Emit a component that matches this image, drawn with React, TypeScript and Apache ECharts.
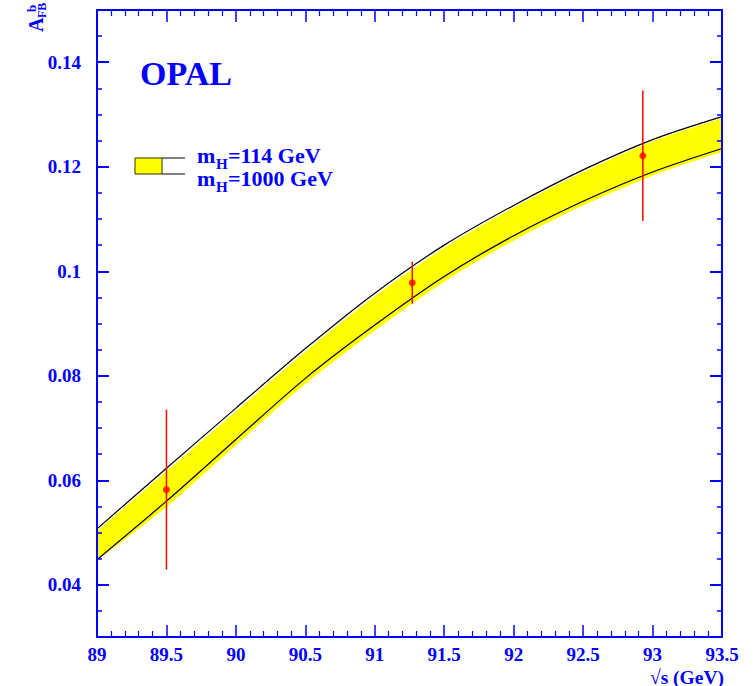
import React, { useEffect, useRef } from "react";
import * as echarts from "echarts";

// sqrt(s) grid for the theory band (GeV)
const sqrtS = [89, 89.5, 90, 90.5, 91, 91.5, 92, 92.5, 93, 93.5];
// A_FB^b prediction, mH = 114 GeV (upper black line)
const afbMH114 = [0.0507, 0.0623, 0.0738, 0.0852, 0.0958, 0.105, 0.1126, 0.1194, 0.1252, 0.1296];
// A_FB^b prediction, mH = 1000 GeV (lower black line)
const afbMH1000 = [0.0448, 0.056, 0.0678, 0.0795, 0.0897, 0.099, 0.1068, 0.1134, 0.119, 0.1235];
// yellow band edges
const bandTop = [0.0503, 0.0617, 0.0732, 0.0846, 0.0952, 0.1045, 0.1122, 0.119, 0.1249, 0.1293];
const bandBottom = [0.0446, 0.0549, 0.0667, 0.0784, 0.0886, 0.098, 0.1059, 0.1126, 0.1183, 0.1228];
// OPAL measurements
const dataX = [89.5, 91.27, 92.93];
const dataY = [0.0582, 0.0978, 0.1221];
const dataErr = [0.0153, 0.004, 0.0125];
// y tick labels
const yLabelValues = [0.04, 0.06, 0.08, 0.1, 0.12, 0.14];

const BLUE = "#0000ff";
const FONT = '"Liberation Serif", "Times New Roman", serif';

function xAxisDef(position: string, showLabel: boolean) {
  return {
    type: "value",
    position,
    z: 5,
    min: 89,
    max: 93.5,
    interval: 0.5,
    axisLine: { show: true, onZero: false, lineStyle: { color: BLUE, width: 2 } },
    axisTick: { show: true, inside: true, length: 12, lineStyle: { color: BLUE, width: 1.5 } },
    minorTick: { show: true, splitNumber: 5, length: 6, lineStyle: { color: BLUE, width: 1.2 } },
    axisLabel: {
      show: showLabel,
      color: BLUE,
      fontFamily: FONT,
      fontWeight: "bold",
      fontSize: 19,
      margin: 8,
      showMinLabel: true,
      showMaxLabel: true,
      formatter: (v: number) => String(v),
    },
    splitLine: { show: false },
    minorSplitLine: { show: false },
  };
}

function yMinorAxis(position: string) {
  return {
    type: "value",
    position,
    z: 5,
    min: 0.03,
    max: 0.15,
    interval: 0.005,
    axisLine: { show: true, onZero: false, lineStyle: { color: BLUE, width: 2 } },
    axisTick: { show: true, inside: true, length: 5, lineStyle: { color: BLUE, width: 1.5 } },
    axisLabel: { show: false },
    splitLine: { show: false },
  };
}

function yMajorAxis(position: string, showLabel: boolean) {
  return {
    type: "value",
    position,
    z: 5,
    min: 0.03,
    max: 0.15,
    axisLine: { show: false, onZero: false },
    axisTick: {
      show: true,
      inside: true,
      length: 12,
      customValues: yLabelValues,
      lineStyle: { color: BLUE, width: 2 },
    },
    axisLabel: {
      show: showLabel,
      customValues: yLabelValues,
      color: BLUE,
      fontFamily: FONT,
      fontWeight: "bold",
      fontSize: 19,
      margin: 16,
      formatter: (v: number) => String(parseFloat(v.toFixed(3))),
    },
    splitLine: { show: false },
  };
}

export default function App() {
  const ref = useRef<HTMLDivElement>(null);

  useEffect(() => {
    if (!ref.current) return;
    const chart = echarts.init(ref.current, undefined, { renderer: "svg" });

    const textStyle = (text: string, size: number, align = "left") => ({
      text,
      font: `bold ${size}px ${FONT}`,
      fill: BLUE,
      textAlign: align,
      textVerticalAlign: "middle",
      verticalAlign: "middle",
    });

    const option: any = {
      animation: false,
      grid: { left: 97, right: 34, top: 10, bottom: 49, containLabel: false, outerBoundsMode: "none" },
      xAxis: [xAxisDef("bottom", true), xAxisDef("top", false)],
      yAxis: [
        yMinorAxis("left"),
        yMajorAxis("left", true),
        yMinorAxis("right"),
        yMajorAxis("right", false),
      ],
      series: [
        {
          type: "line",
          name: "bandTop",
          xAxisIndex: 0,
          yAxisIndex: 0,
          data: sqrtS.map((x, i) => [x, bandTop[i]]),
          symbol: "none",
          smooth: 0.3,
          lineStyle: { width: 0, opacity: 0 },
          areaStyle: { color: "#ffff00", opacity: 1, origin: "start" },
          silent: true,
          z: 1,
        },
        {
          type: "line",
          name: "bandBottom",
          xAxisIndex: 0,
          yAxisIndex: 0,
          data: sqrtS.map((x, i) => [x, bandBottom[i]]),
          symbol: "none",
          smooth: 0.3,
          lineStyle: { width: 0, opacity: 0 },
          areaStyle: { color: "#ffffff", opacity: 1, origin: "start" },
          silent: true,
          z: 1,
        },
        {
          type: "line",
          name: "mH114",
          xAxisIndex: 0,
          yAxisIndex: 0,
          data: sqrtS.map((x, i) => [x, afbMH114[i]]),
          symbol: "none",
          smooth: 0.3,
          lineStyle: { color: "#000000", width: 1.2 },
          silent: true,
          z: 2,
        },
        {
          type: "line",
          name: "mH1000",
          xAxisIndex: 0,
          yAxisIndex: 0,
          data: sqrtS.map((x, i) => [x, afbMH1000[i]]),
          symbol: "none",
          smooth: 0.3,
          lineStyle: { color: "#000000", width: 1.2 },
          silent: true,
          z: 2,
        },
        {
          type: "custom",
          name: "errors",
          xAxisIndex: 0,
          yAxisIndex: 0,
          data: dataX.map((x, i) => [x, dataY[i] - dataErr[i], dataY[i] + dataErr[i]]),
          encode: { x: 0, y: [1, 2] },
          renderItem: (_p: any, api: any) => {
            const lo = api.coord([api.value(0), api.value(1)]);
            const hi = api.coord([api.value(0), api.value(2)]);
            return {
              type: "line",
              shape: { x1: lo[0], y1: lo[1], x2: hi[0], y2: hi[1] },
              style: { stroke: "#ff0000", lineWidth: 1.5 },
            };
          },
          silent: true,
          z: 3,
        },
        {
          type: "scatter",
          name: "OPAL",
          xAxisIndex: 0,
          yAxisIndex: 0,
          data: dataX.map((x, i) => [x, dataY[i]]),
          symbol: "circle",
          symbolSize: 7,
          itemStyle: { color: "#ff0000" },
          silent: true,
          z: 4,
        },
      ],
      graphic: [
        // y axis title A_FB^b (rotated)
        {
          type: "group",
          x: 36,
          y: 32,
          rotation: Math.PI / 2,
          children: [
            { type: "text", x: 0, y: 0, style: textStyle("A", 20) },
            { type: "text", x: 14, y: 5.5, style: textStyle("FB", 12) },
            { type: "text", x: 20, y: -5, style: textStyle("b", 13) },
          ],
        },
        // OPAL label
        { type: "text", x: 140, y: 73, style: textStyle("OPAL", 34) },
        // legend swatch
        {
          type: "rect",
          shape: { x: 135, y: 158, width: 27, height: 16 },
          style: { fill: "#ffff00", stroke: "#333300", lineWidth: 1 },
        },
        { type: "line", shape: { x1: 162, y1: 158, x2: 185, y2: 158 }, style: { stroke: "#000", lineWidth: 1 } },
        { type: "line", shape: { x1: 162, y1: 174, x2: 185, y2: 174 }, style: { stroke: "#000", lineWidth: 1 } },
        // legend texts
        { type: "text", x: 197, y: 155, style: textStyle("m", 22) },
        { type: "text", x: 216, y: 163.5, style: textStyle("H", 15) },
        { type: "text", x: 228, y: 155, style: textStyle("=114 GeV", 22) },
        { type: "text", x: 197, y: 178, style: textStyle("m", 22) },
        { type: "text", x: 216, y: 186.5, style: textStyle("H", 15) },
        { type: "text", x: 228, y: 178, style: textStyle("=1000 GeV", 22) },
        // x axis title
        { type: "text", x: 724, y: 677, style: textStyle("\u221As (GeV)", 19.5, "right") },
      ],
    };

    chart.setOption(option);
    return () => chart.dispose();
  }, []);

  return (
    <div
      ref={ref}
      style={{ position: "fixed", left: 0, top: 0, width: 756, height: 686, background: "#ffffff" }}
    />
  );
}
